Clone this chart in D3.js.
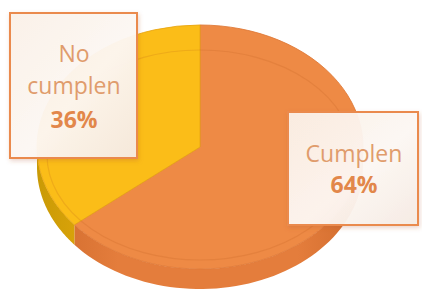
<!DOCTYPE html>
<html>
<head>
<meta charset="utf-8">
<script src="https://cdn.jsdelivr.net/npm/d3@7"></script>
<style>
  body { margin: 0; background: #fff; }
  svg { display: block; font-family: "Open Sans", sans-serif; }
</style>
</head>
<body>
<svg id="chart" width="422" height="295"></svg>
<script>
// data
const categories = ["Cumplen", "No cumplen"];
const values = [64, 36];
const labelLines = [["Cumplen"], ["No", "cumplen"]];
const pctLabels = ["64%", "36%"];

const W = 422, H = 295,
      cx = 200, cy = 147, rx = 163, ry = 122, depth = 20,
      topColors = ["#ee8a45", "#fbbd18"],
      sideDark = ["#cf6a2c", "#c99a06"],
      sideLight = ["#e47d3c", "#e9ab0c"];

const svg = d3.select("#chart");
const defs = svg.append("defs");

categories.forEach((c, i) => {
  const g = defs.append("linearGradient").attr("id", "side" + i)
      .attr("gradientUnits", "userSpaceOnUse")
      .attr("x1", cx - rx).attr("x2", cx + rx).attr("y1", 0).attr("y2", 0);
  g.append("stop").attr("offset", "0%").attr("stop-color", sideDark[i]);
  g.append("stop").attr("offset", "25%").attr("stop-color", sideLight[i]);
  g.append("stop").attr("offset", "80%").attr("stop-color", sideLight[i]);
  g.append("stop").attr("offset", "100%").attr("stop-color", sideDark[i]);
});

const sh = defs.append("filter").attr("id", "shadow")
    .attr("x", "-20%").attr("y", "-20%").attr("width", "140%").attr("height", "140%");
sh.append("feDropShadow").attr("dx", 1).attr("dy", 2).attr("stdDeviation", 2)
    .attr("flood-color", "#b0502a").attr("flood-opacity", 0.25);

const glare = defs.append("linearGradient").attr("id", "glare")
    .attr("x1", "0%").attr("y1", "0%").attr("x2", "100%").attr("y2", "100%");
glare.append("stop").attr("offset", "0%").attr("stop-color", "#fbf1e8");
glare.append("stop").attr("offset", "55%").attr("stop-color", "#fdf8f4");
glare.append("stop").attr("offset", "100%").attr("stop-color", "#f6ebe3");

const pie = d3.pie().sort(null).value(d => d);
const arcs = pie(values);

// ellipse point for a d3 angle (0 = 12 o'clock, clockwise)
const px = a => cx + rx * Math.sin(a);
const py = a => cy - ry * Math.cos(a);

const line = d3.line();

// side walls (front half only: angles between PI/2 and 3PI/2)
arcs.forEach((d, i) => {
  const s = Math.max(d.startAngle, Math.PI / 2),
        e = Math.min(d.endAngle, 3 * Math.PI / 2);
  if (e <= s) return;
  const n = 60;
  const angs = d3.range(n + 1).map(k => s + (e - s) * k / n);
  const pts = angs.map(a => [px(a), py(a)])
      .concat(angs.slice().reverse().map(a => [px(a), py(a) + depth]));
  svg.append("path")
      .attr("d", line(pts) + "Z")
      .attr("fill", "url(#side" + i + ")");
});

// top faces
const arcGen = d3.arc().innerRadius(0).outerRadius(rx);
const topG = svg.append("g")
    .attr("transform", `translate(${cx},${cy}) scale(1,${ry / rx})`);
topG.selectAll("path.slice")
  .data(arcs)
  .enter().append("path")
    .attr("class", "slice")
    .attr("d", arcGen)
    .attr("fill", (d, i) => topColors[i])
    .attr("stroke", (d, i) => i === 0 ? "#df7a38" : "#e8a512")
    .attr("stroke-width", 1);

// faint bevel line on top face
svg.append("ellipse")
    .attr("cx", cx).attr("cy", cy + 8)
    .attr("rx", rx - 10)
    .attr("ry", ry - 17)
    .attr("fill", "none")
    .attr("stroke", "#b8561c")
    .attr("stroke-opacity", 0.18)
    .attr("stroke-width", 1.2);

// label boxes
const boxes = [
  { x: 288, y: 112, w: 130, h: 113, tx: 354, ty: [162, 193] },
  { x: 10, y: 13, w: 127, h: 145, tx: 74, ty: [62, 94, 128] }
];

boxes.forEach((b, i) => {
  const g = svg.append("g");
  g.append("rect")
      .attr("x", b.x).attr("y", b.y).attr("width", b.w).attr("height", b.h)
      .attr("fill", "url(#glare)")
      .attr("fill-opacity", 0.95)
      .attr("stroke", "#ea8a4e")
      .attr("stroke-width", 2)
      .attr("filter", "url(#shadow)");
  labelLines[i].forEach((t, k) => {
    g.append("text")
        .attr("x", b.tx).attr("y", b.ty[k])
        .attr("text-anchor", "middle")
        .attr("font-size", 23)
        .attr("fill", "#e09c6c")
        .text(t);
  });
  g.append("text")
      .attr("x", b.tx).attr("y", b.ty[labelLines[i].length])
      .attr("text-anchor", "middle")
      .attr("font-size", 23)
      .attr("font-weight", "bold")
      .attr("fill", "#e2874a")
      .text(pctLabels[i]);
});
</script>
</body>
</html>
